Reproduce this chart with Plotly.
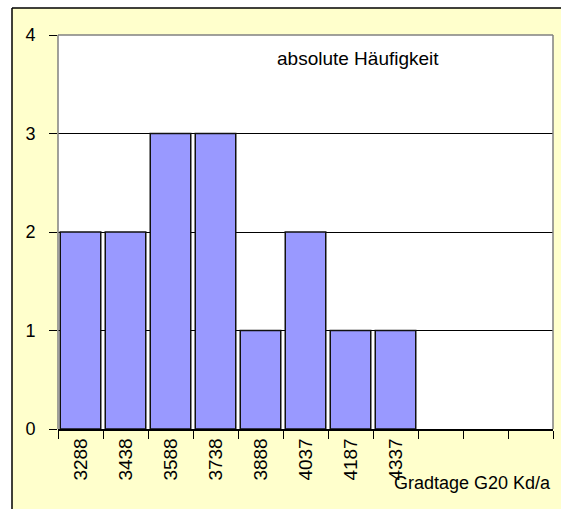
import plotly.graph_objects as go

categories = ["3288", "3438", "3588", "3738", "3888", "4037", "4187", "4337", "e1", "e2", "e3"]
tick_labels = ["3288", "3438", "3588", "3738", "3888", "4037", "4187", "4337", "", "", ""]
counts = [2, 2, 3, 3, 1, 2, 1, 1, None, None, None]

W, H = 561, 509
L, R, T, B = 58, 553, 35, 429
pw, ph = R - L, B - T

def px(x):
    return (x - L) / pw

def py(y):
    return (B - y) / ph

fig = go.Figure()
fig.add_trace(go.Bar(
    x=categories, y=counts,
    marker=dict(color="#9999FF", line=dict(color="#111111", width=1.5)),
    hoverinfo="skip",
))

font = "Arial, Liberation Sans, sans-serif"
fig.update_layout(
    width=W, height=H,
    margin=dict(l=L, r=W - R, t=T, b=H - B, autoexpand=False),
    paper_bgcolor="#FFFFCC",
    plot_bgcolor="#FFFFFF",
    bargap=0.1,
    showlegend=False,
    font=dict(family=font, color="#000000", size=16),
    xaxis=dict(
        type="category",
        categoryorder="array", categoryarray=categories,
        tickmode="array", tickvals=categories, ticktext=tick_labels,
        range=[-0.5, 10.5],
        tickson="boundaries",
        ticks="outside", ticklen=8, tickcolor="#000000", tickwidth=1,
        tickangle=-90,
        tickfont=dict(size=19, family=font),
        showline=True, linecolor="#000000", linewidth=1.5,
        showgrid=False, zeroline=False, automargin=False,
    ),
    yaxis=dict(
        range=[0, 4],
        tickvals=[0, 1, 2, 3, 4],
        ticks="outside", ticklen=8, tickcolor="#000000", tickwidth=1,
        tickfont=dict(size=18, family=font),
        ticklabelstandoff=10,
        showgrid=True, gridcolor="#000000", gridwidth=1,
        zeroline=False, showline=False, automargin=False,
    ),
    shapes=[
        # white strips outside the yellow frame
        dict(type="rect", xref="paper", yref="paper", x0=px(0), x1=px(12), y0=py(H), y1=py(0),
             fillcolor="#FFFFFF", line=dict(width=0), layer="above"),
        dict(type="rect", xref="paper", yref="paper", x0=px(0), x1=px(W), y0=py(8), y1=py(0),
             fillcolor="#FFFFFF", line=dict(width=0), layer="above"),
        dict(type="line", xref="paper", yref="paper", x0=px(12), x1=px(12), y0=py(8), y1=py(H),
             line=dict(color="#000000", width=1.5), layer="above"),
        dict(type="line", xref="paper", yref="paper", x0=px(12), x1=px(W), y0=py(8), y1=py(8),
             line=dict(color="#000000", width=1.5), layer="above"),
        # plot area border
        dict(type="line", xref="paper", yref="paper", x0=0, x1=1, y0=1, y1=1,
             line=dict(color="#808080", width=1.5), layer="above"),
        dict(type="line", xref="paper", yref="paper", x0=1, x1=1, y0=0, y1=1,
             line=dict(color="#808080", width=1.5), layer="above"),
        dict(type="line", xref="paper", yref="paper", x0=0, x1=0, y0=0, y1=1,
             line=dict(color="#808080", width=1.5), layer="above"),
    ],
    annotations=[
        dict(text="absolute Häufigkeit", xref="paper", yref="paper",
             x=px(358), y=py(58), xanchor="center", yanchor="middle",
             showarrow=False, font=dict(size=19, family=font, color="#000000")),
        dict(text="Gradtage G20 Kd/a", xref="paper", yref="paper",
             x=1.0, y=py(483), xanchor="right", yanchor="middle",
             showarrow=False, font=dict(size=18, family=font, color="#000000")),
    ],
)

fig.write_html(
    "out.html",
    config={"displayModeBar": False},
    post_script="document.body.style.margin='0px';document.body.style.overflow='hidden';",
)
